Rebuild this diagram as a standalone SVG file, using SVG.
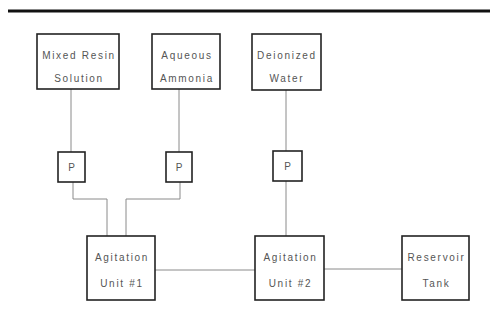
<svg xmlns="http://www.w3.org/2000/svg" width="490" height="325" viewBox="0 0 490 325">
<style>
.box{fill:#fff;stroke:#222;stroke-width:1.6}
.lbl{font-family:"Liberation Sans",Arial,sans-serif;font-size:10px;letter-spacing:1.7px;fill:#555;text-anchor:middle}
.con{fill:none;stroke:#8a8a8a;stroke-width:1}
</style>
<rect width="490" height="325" fill="#fff"/>
<line x1="8" y1="11" x2="490" y2="11" stroke="#111" stroke-width="3"/>
<g id="connectors">
<path class="con" d="M71,89 V152"/>
<path class="con" d="M179,89 V152"/>
<path class="con" d="M286,90 V151"/>
<path class="con" d="M73,182 V199 H107 V236"/>
<path class="con" d="M180,182 V199 H126 V236"/>
<path class="con" d="M286,181 V236"/>
<path class="con" d="M155,270 H255"/>
<path class="con" d="M324,269 H402"/>
</g>
<g id="mixed-resin"><rect class="box" x="37" y="34" width="82" height="55"/><text class="lbl" x="79" y="59">Mixed Resin</text><text class="lbl" x="79" y="82">Solution</text></g>
<g id="aqueous-ammonia"><rect class="box" x="152" y="34" width="68" height="55"/><text class="lbl" x="187" y="59">Aqueous</text><text class="lbl" x="187" y="82">Ammonia</text></g>
<g id="deionized-water"><rect class="box" x="252" y="34" width="69" height="56"/><text class="lbl" x="287" y="59">Deionized</text><text class="lbl" x="287" y="82">Water</text></g>
<g id="pump1"><rect class="box" x="58" y="152" width="27" height="30"/><text class="lbl" x="72.5" y="171">P</text></g>
<g id="pump2"><rect class="box" x="166" y="152" width="26" height="30"/><text class="lbl" x="180" y="171">P</text></g>
<g id="pump3"><rect class="box" x="273" y="151" width="29" height="30"/><text class="lbl" x="288.5" y="170">P</text></g>
<g id="agitation1"><rect class="box" x="87" y="236" width="68" height="64"/><text class="lbl" x="122" y="261">Agitation</text><text class="lbl" x="122" y="287">Unit #1</text></g>
<g id="agitation2"><rect class="box" x="255" y="236" width="69" height="64"/><text class="lbl" x="290.5" y="261">Agitation</text><text class="lbl" x="290.5" y="287">Unit #2</text></g>
<g id="reservoir"><rect class="box" x="402" y="236" width="67" height="64"/><text class="lbl" x="436.5" y="261">Reservoir</text><text class="lbl" x="436.5" y="287">Tank</text></g>
</svg>
